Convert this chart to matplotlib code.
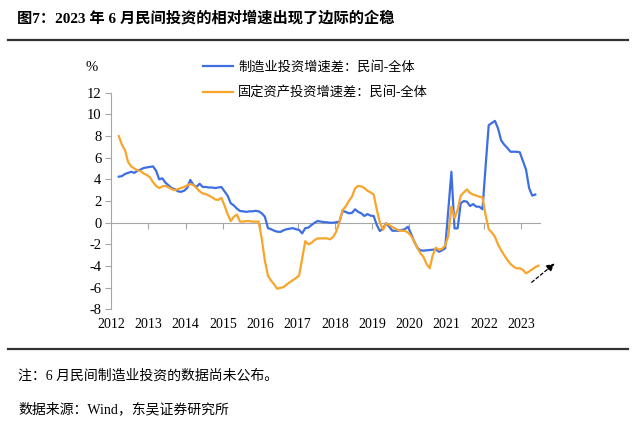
import numpy as np
import pandas as pd
import matplotlib
matplotlib.use('Agg')
import matplotlib.pyplot as plt
from matplotlib.lines import Line2D

plt.rcParams['font.family'] = ['Liberation Serif', 'Noto Sans CJK SC']
plt.rcParams['axes.unicode_minus'] = False

# Monthly data, 2012-03 .. 2023-06 (blue ends 2023-05)
blue_2012 = [4.25, 4.3, 4.5, 4.6, 4.7, 4.6, 4.8, 4.9, 5.05, 5.1]
blue_2013 = [5.15, 5.2, 4.8, 4.0, 4.1, 3.7, 3.45, 3.2, 3.1, 2.9, 2.85, 2.95]
blue_2014 = [3.2, 3.95, 3.5, 3.3, 3.6, 3.3, 3.3, 3.25, 3.25, 3.2, 3.25, 3.3]
blue_2015 = [2.9, 2.5, 1.8, 1.6, 1.3, 1.08, 1.05, 1.0, 1.05, 1.05, 1.1, 1.05]
blue_2016 = [0.87, 0.55, -0.5, -0.6, -0.74, -0.83, -0.85, -0.7, -0.6, -0.55, -0.5, -0.6]
blue_2017 = [-0.67, -0.98, -0.5, -0.45, -0.21, 0.0, 0.16, 0.1, 0.05, 0.04, 0.0, 0.0]
blue_2018 = [0.05, 0.1, 1.1, 1.0, 0.87, 0.9, 1.24, 1.0, 0.87, 0.62, 0.8, 0.65]
blue_2019 = [0.62, -0.21, -0.77, -0.52, -0.06, -0.37, -0.74, -0.74, -0.74, -0.67, -0.6, -0.37]
blue_2020 = [-1.0, -1.7, -2.3, -2.55, -2.58, -2.55, -2.52, -2.5, -2.46, -2.68, -2.55, -2.35]
blue_2021 = [1.2, 4.7, -0.52, -0.52, 1.8, 2.0, 1.94, 1.54, 1.72, 1.48, 1.48, 1.24]
blue_2022 = [5.2, 9.0, 9.2, 9.4, 8.7, 7.6, 7.2, 6.9, 6.55, 6.55, 6.55, 6.5]
blue_2023 = [5.7, 4.9, 3.2, 2.5, 2.6]

orange_2012 = [8.0, 7.2, 6.7, 5.6, 5.2, 5.0, 4.85, 4.75, 4.55, 4.4]
orange_2013 = [4.2, 3.75, 3.4, 3.2, 3.35, 3.4, 3.27, 3.1, 3.0, 3.1, 3.2, 3.3]
orange_2014 = [3.45, 3.57, 3.48, 3.2, 2.9, 2.7, 2.65, 2.5, 2.35, 2.15, 2.1, 2.3]
orange_2015 = [1.6, 0.8, 0.15, 0.55, 0.75, 0.1, 0.1, 0.15, 0.15, 0.1, 0.1, 0.1]
orange_2016 = [-1.5, -3.5, -4.9, -5.35, -5.7, -6.1, -6.0, -5.95, -5.7, -5.5, -5.3, -5.1]
orange_2017 = [-4.9, -3.3, -1.7, -2.0, -1.85, -1.6, -1.45, -1.44, -1.44, -1.45, -1.53, -1.3]
orange_2018 = [-0.8, 0.1, 1.17, 1.5, 2.0, 2.4, 3.17, 3.4, 3.35, 3.2, 2.95, 2.8]
orange_2019 = [2.6, 1.2, 0.0, -0.67, -0.06, -0.2, -0.4, -0.55, -0.7, -0.74, -0.75, -0.9]
orange_2020 = [-1.2, -1.7, -2.3, -2.8, -3.15, -3.8, -4.2, -3.0, -2.3, -2.5, -2.4, -2.1]
orange_2021 = [-1.2, 1.48, 0.4, 1.2, 2.5, 2.8, 3.08, 2.75, 2.6, 2.5, 2.4, 2.35]
orange_2022 = [0.7, -0.6, -0.9, -1.3, -2.0, -2.55, -3.0, -3.45, -3.8, -4.05, -4.21, -4.21]
orange_2023 = [-4.35, -4.67, -4.5, -4.3, -4.1, -3.97]

blue_label = '制造业投资增速差：民间-全体'
orange_label = '固定资产投资增速差：民间-全体'
years = list(range(2012, 2024))
yticks = list(range(-8, 13, 2))

title = '图7：2023 年 6 月民间投资的相对增速出现了边际的企稳'
note = '注：6 月民间制造业投资的数据尚未公布。'
source = '数据来源：Wind，东吴证券研究所'

BLUE = '#3D6FE3'
ORANGE = '#F7A52B'
GREY = '#A6A6A6'


def main():
    blue = sum([blue_2012, blue_2013, blue_2014, blue_2015, blue_2016, blue_2017,
                blue_2018, blue_2019, blue_2020, blue_2021, blue_2022, blue_2023], [])
    orange = sum([orange_2012, orange_2013, orange_2014, orange_2015, orange_2016,
                  orange_2017, orange_2018, orange_2019, orange_2020, orange_2021,
                  orange_2022, orange_2023], [])

    months = pd.period_range('2012-03', periods=len(orange), freq='M')
    x = np.asarray(months.year + (months.month - 0.5) / 12.0)

    fig = plt.figure(figsize=(6.4, 4.3), dpi=100)
    ax = fig.add_axes([111 / 640, 1 - 309.4 / 430, 429 / 640, 216.7 / 430])

    ax.plot(x[:len(blue)], blue, color=BLUE, lw=1.6, label=blue_label)
    ax.plot(x, orange, color=ORANGE, lw=1.6, label=orange_label)

    ax.set_xlim(2012, 2023.5)
    ax.set_ylim(-8, 12)

    # y axis: grey spine, outward ticks
    for s in ['top', 'right', 'bottom']:
        ax.spines[s].set_visible(False)
    ax.spines['left'].set_color(GREY)
    ax.set_yticks(yticks)
    ax.tick_params(axis='y', colors=GREY, length=4, width=0.8, labelsize=10.5,
                   labelcolor='black', pad=3)

    # labels at bottom, no tick marks
    ax.set_xticks(years)
    ax.set_xticklabels([str(y) for y in years])
    ax.tick_params(axis='x', length=0, labelsize=10, pad=6)

    # zero line with tick marks
    zero = ax.secondary_xaxis(8 / 20)
    zero.spines['bottom'].set_color(GREY)
    zero.set_xticks(years[1:])
    zero.set_xticklabels([])
    zero.tick_params(axis='x', colors=GREY, length=4, width=0.8, direction='out')

    ax.text(-0.03, 1.115, '%', transform=ax.transAxes, fontsize=10.5,
            ha='right', va='center')

    ax.legend(loc='upper left', bbox_to_anchor=(203 / 640, 1 - 61 / 430),
              bbox_transform=fig.transFigure, frameon=False, fontsize=9.5,
              handlelength=2.3, handletextpad=0.35, labelspacing=0.95,
              borderpad=0, borderaxespad=0)

    # dashed arrow hinting at the rebound
    ax.annotate('', xy=(2023.95, -3.6), xytext=(2023.22, -5.66),
                annotation_clip=False,
                arrowprops=dict(arrowstyle='-|>', color='black', lw=0.9,
                                linestyle=(0, (2.5, 2)), mutation_scale=12))

    # title, rules and footnotes
    fig.text(17 / 640, 1 - 18 / 430, title, fontsize=11, fontweight='bold',
             ha='left', va='center')
    fig.add_artist(Line2D([8 / 640, 628 / 640], [1 - 40 / 430] * 2,
                          color='#333333', lw=1.6))
    fig.add_artist(Line2D([8 / 640, 628 / 640], [1 - 349 / 430] * 2,
                          color='#333333', lw=1.6))
    fig.text(18 / 640, 1 - 376 / 430, note, fontsize=10, ha='left', va='center')
    fig.text(18 / 640, 1 - 409 / 430, source, fontsize=10, ha='left', va='center')

    fig.savefig('out.png', dpi=100)


if __name__ == '__main__':
    main()
